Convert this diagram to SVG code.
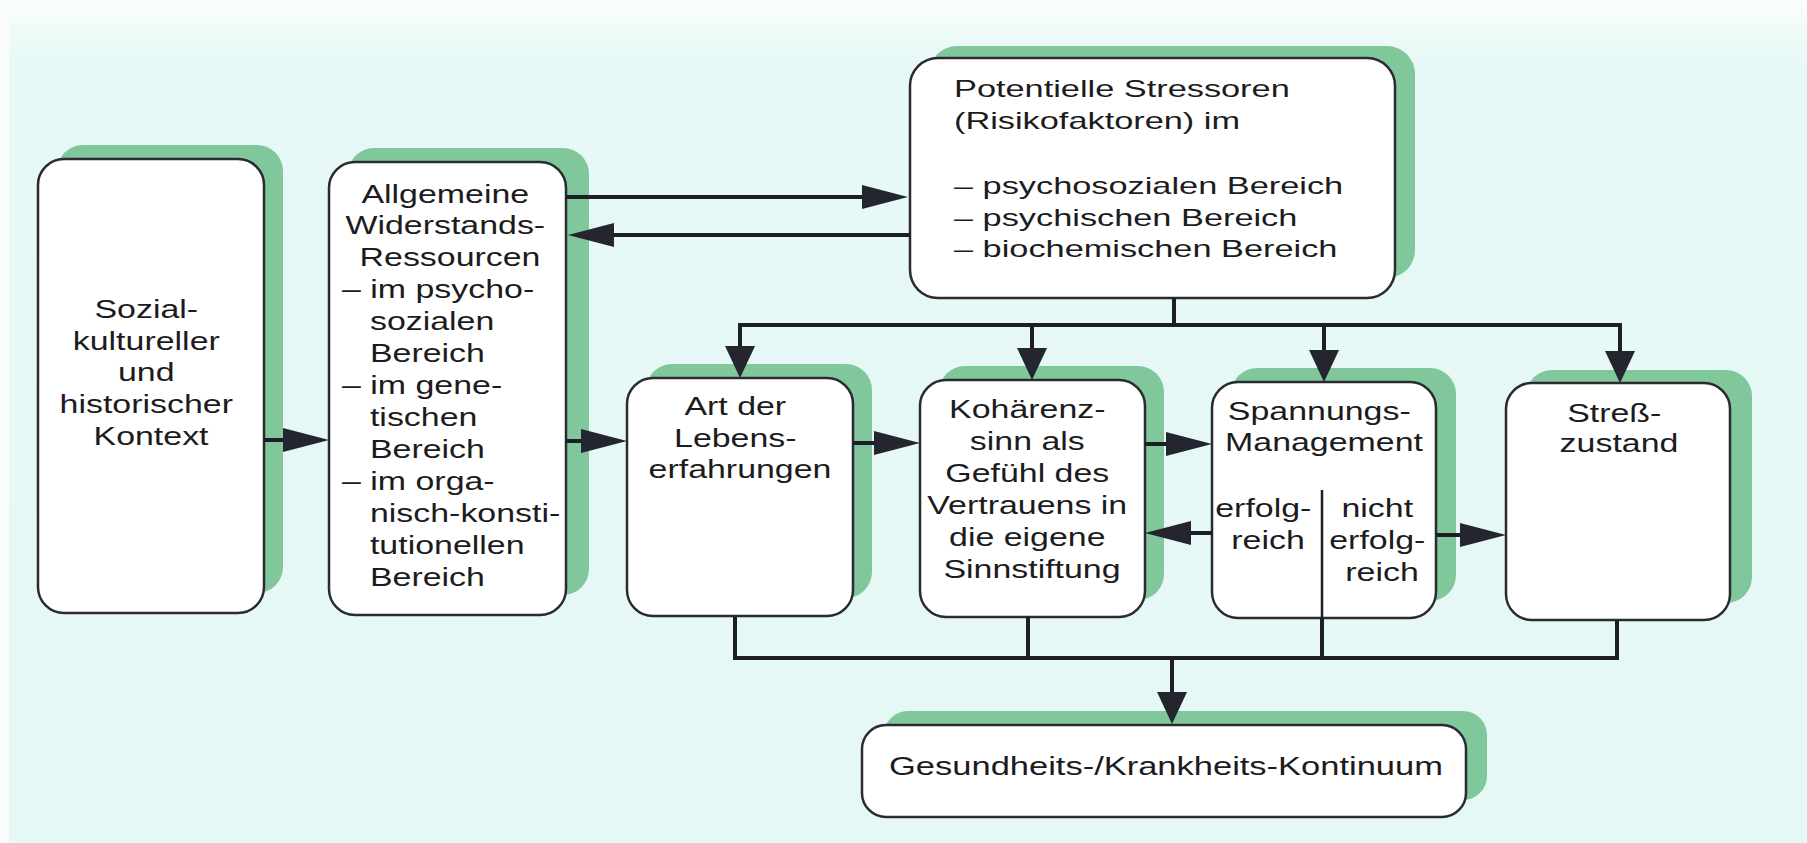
<svg xmlns="http://www.w3.org/2000/svg" width="1807" height="843" viewBox="0 0 1807 843">
  <style>
    .shadow { fill: #80c79c; }
    .box { fill: #ffffff; stroke: #2a2a30; stroke-width: 2.5; }
    .lbl { font-family: "Liberation Sans", Arial, sans-serif; font-size: 25.5px; fill: #1c1c20; }
    .lblc { text-anchor: middle; }
    .cond { font-family: "Liberation Sans", Arial, sans-serif; font-size: 24px; fill: #1c1c20; }
    .wire { fill: none; stroke: #1e1e26; stroke-width: 4; }
    .thin { fill: none; stroke: #1e1e26; stroke-width: 2.5; }
  </style>
  <defs>
    <linearGradient id="bg" x1="0" y1="0" x2="0" y2="1">
      <stop offset="0" stop-color="#fcfefe"/>
      <stop offset="0.025" stop-color="#f2fbfa"/>
      <stop offset="0.07" stop-color="#e7f9f6"/>
      <stop offset="1" stop-color="#e5f8f5"/>
    </linearGradient>
    <!-- long arrowhead for horizontal runs -->
    <marker id="ah" markerUnits="userSpaceOnUse" markerWidth="46" markerHeight="24" refX="36" refY="12" orient="auto">
      <path d="M0,0 L46,12 L0,24 Z" fill="#25252f"/>
    </marker>
    <!-- shorter, wider arrowhead for vertical drops -->
    <marker id="av" markerUnits="userSpaceOnUse" markerWidth="32" markerHeight="30" refX="22" refY="15" orient="auto">
      <path d="M0,0 L32,15 L0,30 Z" fill="#25252f"/>
    </marker>
  </defs>

  <rect x="0" y="0" width="1807" height="843" fill="url(#bg)"/>
  <rect x="0" y="0" width="9" height="843" fill="#fbfdfd"/>

  <!-- Sozial-kultureller und historischer Kontext -->
  <g id="kontext">
    <rect class="shadow" x="57" y="145" width="226" height="448" rx="26"/>
    <rect class="box" x="38" y="159" width="226" height="454" rx="26"/>
    <text class="lbl lblc" transform="translate(151,0) scale(1.33,1)">
      <tspan x="0" y="318">Sozial-</tspan>
      <tspan x="0" y="350">kultureller</tspan>
      <tspan x="0" y="381">und</tspan>
      <tspan x="0" y="413">historischer</tspan>
      <tspan x="0" y="445">Kontext</tspan>
    </text>
  </g>

  <!-- Allgemeine Widerstandsressourcen -->
  <g id="ressourcen">
    <rect class="shadow" x="348" y="148" width="241" height="447" rx="26"/>
    <rect class="box" x="329" y="162" width="237" height="453" rx="26"/>
    <text class="lbl lblc" transform="translate(450,0) scale(1.33,1)">
      <tspan x="0" y="203">Allgemeine</tspan>
      <tspan x="0" y="234">Widerstands-</tspan>
      <tspan x="0" y="266">Ressourcen</tspan>
    </text>
    <text class="lbl" transform="translate(342,0) scale(1.33,1)">
      <tspan x="0" y="298">– im psycho-</tspan>
      <tspan x="21" y="330">sozialen</tspan>
      <tspan x="21" y="362">Bereich</tspan>
      <tspan x="0" y="394">– im gene-</tspan>
      <tspan x="21" y="426">tischen</tspan>
      <tspan x="21" y="458">Bereich</tspan>
      <tspan x="0" y="490">– im orga-</tspan>
      <tspan x="21" y="522">nisch-konsti-</tspan>
      <tspan x="21" y="554">tutionellen</tspan>
      <tspan x="21" y="586">Bereich</tspan>
    </text>
  </g>

  <!-- Potentielle Stressoren -->
  <g id="stressoren">
    <rect class="shadow" x="929" y="46" width="486" height="232" rx="28"/>
    <rect class="box" x="910" y="58" width="485" height="240" rx="28"/>
    <text class="cond" transform="translate(954,0) scale(1.43,1)">
      <tspan x="0" y="97">Potentielle Stressoren</tspan>
      <tspan x="0" y="129">(Risikofaktoren) im</tspan>
      <tspan x="0" y="194">– psychosozialen Bereich</tspan>
      <tspan x="0" y="226">– psychischen Bereich</tspan>
      <tspan x="0" y="257">– biochemischen Bereich</tspan>
    </text>
  </g>

  <!-- Art der Lebenserfahrungen -->
  <g id="lebenserfahrungen">
    <rect class="shadow" x="646" y="364" width="226" height="234" rx="26"/>
    <rect class="box" x="627" y="378" width="226" height="238" rx="26"/>
    <text class="lbl lblc" transform="translate(740,0) scale(1.33,1)">
      <tspan x="0" y="415">Art der</tspan>
      <tspan x="0" y="447">Lebens-</tspan>
      <tspan x="0" y="478">erfahrungen</tspan>
    </text>
  </g>

  <!-- Kohärenzsinn -->
  <g id="kohaerenzsinn">
    <rect class="shadow" x="939" y="366" width="225" height="234" rx="26"/>
    <rect class="box" x="920" y="380" width="225" height="237" rx="26"/>
    <text class="lbl lblc" transform="translate(1032,0) scale(1.33,1)">
      <tspan x="0" y="418">Kohärenz-</tspan>
      <tspan x="0" y="450">sinn als</tspan>
      <tspan x="0" y="482">Gefühl des</tspan>
      <tspan x="0" y="514">Vertrauens in</tspan>
      <tspan x="0" y="546">die eigene</tspan>
      <tspan x="0" y="578">Sinnstiftung</tspan>
    </text>
  </g>

  <!-- Spannungs-Management -->
  <g id="spannungsmanagement">
    <rect class="shadow" x="1231" y="368" width="225" height="233" rx="26"/>
    <rect class="box" x="1212" y="382" width="224" height="236" rx="26"/>
    <text class="lbl lblc" transform="translate(1324,0) scale(1.33,1)">
      <tspan x="0" y="420">Spannungs-</tspan>
      <tspan x="0" y="451">Management</tspan>
    </text>
    <text class="lbl lblc" transform="translate(1268,0) scale(1.33,1)">
      <tspan x="0" y="517">erfolg-</tspan>
      <tspan x="0" y="549">reich</tspan>
    </text>
    <text class="lbl lblc" transform="translate(1382,0) scale(1.33,1)">
      <tspan x="0" y="517">nicht</tspan>
      <tspan x="0" y="549">erfolg-</tspan>
      <tspan x="0" y="581">reich</tspan>
    </text>
  </g>

  <!-- Streßzustand -->
  <g id="stresszustand">
    <rect class="shadow" x="1526" y="370" width="226" height="233" rx="26"/>
    <rect class="box" x="1506" y="383" width="224" height="237" rx="26"/>
    <text class="lbl lblc" transform="translate(1619,0) scale(1.33,1)">
      <tspan x="0" y="422">Streß-</tspan>
      <tspan x="0" y="452">zustand</tspan>
    </text>
  </g>

  <!-- Gesundheits-/Krankheits-Kontinuum -->
  <g id="kontinuum">
    <rect class="shadow" x="884" y="711" width="603" height="89" rx="24"/>
    <rect class="box" x="862" y="725" width="604" height="92" rx="24"/>
    <text class="lbl lblc" style="font-size:25px" transform="translate(1166,0) scale(1.38,1)">
      <tspan x="0" y="775">Gesundheits-/Krankheits-Kontinuum</tspan>
    </text>
  </g>

  <!-- connectors -->
  <g id="connectors">
    <path class="wire" d="M264,440 H319" marker-end="url(#ah)"/>
    <path class="wire" d="M566,197 H898" marker-end="url(#ah)"/>
    <path class="wire" d="M910,235 H578" marker-end="url(#ah)"/>
    <path class="wire" d="M566,441 H617" marker-end="url(#ah)"/>
    <path class="wire" d="M853,443 H910" marker-end="url(#ah)"/>
    <path class="wire" d="M1145,444 H1202" marker-end="url(#ah)"/>
    <path class="wire" d="M1212,533 H1155" marker-end="url(#ah)"/>
    <path class="wire" d="M1436,535 H1496" marker-end="url(#ah)"/>

    <!-- stressor fan-out -->
    <path class="wire" d="M1174,298 V325"/>
    <path class="wire" d="M738,325 H1622"/>
    <path class="wire" d="M740,325 V368" marker-end="url(#av)"/>
    <path class="wire" d="M1032,325 V370" marker-end="url(#av)"/>
    <path class="wire" d="M1324,325 V372" marker-end="url(#av)"/>
    <path class="wire" d="M1620,325 V373" marker-end="url(#av)"/>

    <!-- split inside Spannungs-Management -->
    <path class="thin" d="M1322,490 V658"/>

    <!-- outcome collector -->
    <path class="wire" d="M735,617 V658 H1617 V620"/>
    <path class="wire" d="M1028,617 V658"/>
    <path class="wire" d="M1322,618 V658"/>
    <path class="wire" d="M1172,658 V714" marker-end="url(#av)"/>
  </g>
</svg>
